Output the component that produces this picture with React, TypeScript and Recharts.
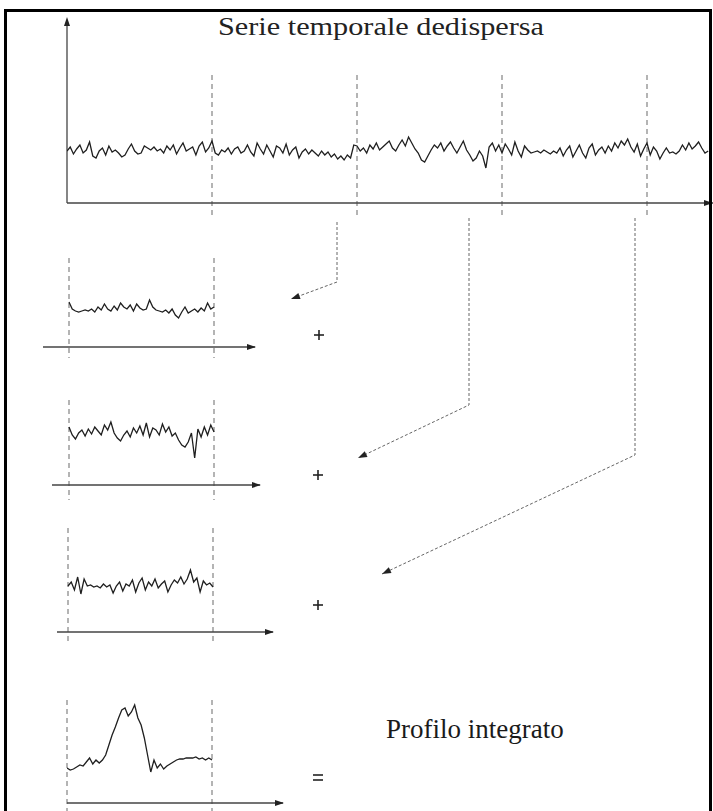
import React from 'react';
import { Line, LineChart, ReferenceLine, XAxis, YAxis } from 'recharts';

// one pulse period = 45 samples
const PERIOD = 45;

// dedispersed time series (height above the time axis)
const mainSeries = [
  52, 56, 49, 54, 58, 50, 53, 61, 47, 45, 52, 55, 48, 57, 51, 53, 50, 46, 48, 54, 59, 52, 49, 50, 57,
  55, 53, 56, 52, 54, 50, 57, 53, 58, 49, 55, 60, 52, 54, 56, 48, 57, 61, 51, 55,
  62, 50, 48, 53, 51, 55, 49, 54, 56, 50, 52, 58, 51, 47, 60, 54, 49, 58, 52, 46, 57, 55, 50, 59, 48,
  53, 56, 45, 51, 54, 49, 53, 50, 47, 52, 48, 51, 46, 49, 44, 47, 43, 48, 45, 58,
  57, 52, 55, 50, 58, 54, 60, 53, 56, 59, 62, 55, 52, 58, 63, 57, 66, 60, 54, 50, 43, 41, 47, 53, 58,
  55, 60, 52, 57, 61, 55, 50, 56, 62, 53, 48, 42, 45, 52, 47, 35, 56, 60, 52, 58,
  50, 59, 54, 48, 61, 52, 46, 57, 53, 50, 51, 52, 50, 53, 51, 49, 52, 50, 55, 47, 53, 57, 46, 52, 58,
  50, 45, 55, 59, 48, 53, 56, 50, 57, 52, 60, 55, 62, 58, 64, 56, 51, 59, 47, 54,
  60, 48, 56, 52, 44, 50, 55, 50, 51, 49, 52, 58, 53, 60, 54, 57, 61, 55, 50, 52,
];

// single periods cut out of the series
const fold1 = [
  45, 38, 36, 35, 36, 37, 36, 38, 35, 40, 37, 43, 38, 36, 41, 37, 44, 40, 38, 42, 36, 43, 39,
  37, 38, 47, 40, 37, 36, 35, 37, 34, 38, 32, 29, 35, 40, 34, 36, 38, 35, 39, 36, 44, 38, 40,
];
const fold2 = [
  58, 50, 46, 52, 55, 49, 56, 51, 58, 54, 50, 60, 55, 63, 52, 47, 44, 50, 54, 48, 57, 52, 59,
  50, 62, 48, 57, 55, 50, 61, 53, 58, 49, 52, 45, 40, 38, 43, 52, 27, 56, 48, 58, 50, 60, 53,
];
const fold3 = [
  46, 50, 42, 55, 38, 53, 46, 47, 45, 46, 44, 48, 45, 47, 39, 46, 50, 41, 48, 46, 52, 40, 49,
  54, 42, 50, 46, 53, 44, 48, 51, 40, 47, 52, 49, 55, 48, 53, 62, 50, 54, 40, 51, 47, 49, 45,
];

// integrated (folded) profile
const profile = [
  35, 33, 34, 36, 38, 37, 41, 45, 39, 43, 40, 43, 48, 58, 68, 76, 85, 93, 95, 87, 91, 98, 85,
  78, 65, 48, 31, 43, 35, 39, 34, 37, 39, 41, 43, 44, 44, 45, 45, 45, 46, 44, 45, 43, 45, 43,
];

const titleText = 'Serie temporale dedispersa';
const profileText = 'Profilo integrato';

const SERIF = "'Liberation Serif', 'Times New Roman', serif";
const PX_PER_SAMPLE = 145 / PERIOD;
const PAD = 16;
const AXIS = '#444';

const toRows = (values: number[]) => values.map((v, i) => ({ t: i, v }));

interface TracePanelProps {
  values: number[];
  originX: number;
  axisY: number;
  axisFrom: number;
  axisTo: number;
  dashTop: number;
  dashBelow: number;
  boundaries: number[];
  plotTop?: number;
  showYAxis?: boolean;
}

const TracePanel = ({
  values,
  originX,
  axisY,
  axisFrom,
  axisTo,
  dashTop,
  dashBelow,
  boundaries,
  plotTop,
  showYAxis = false,
}: TracePanelProps) => {
  const plotH = plotTop ?? dashTop + 6;
  const width = axisTo - axisFrom;
  const xMin = (axisFrom - originX) / PX_PER_SAMPLE;
  const xMax = (axisTo - originX) / PX_PER_SAMPLE;

  return (
    <div style={{ position: 'absolute', left: axisFrom - PAD, top: axisY - plotH - PAD }}>
      <LineChart
        width={width + PAD * 2}
        height={plotH + PAD * 2}
        data={toRows(values)}
        margin={{ top: PAD, right: PAD, bottom: PAD, left: PAD }}
      >
        <XAxis dataKey="t" type="number" domain={[xMin, xMax]} allowDataOverflow hide />
        <YAxis type="number" domain={[0, plotH]} allowDataOverflow hide />
        {boundaries.map((b) => (
          <ReferenceLine
            key={`b-${b}`}
            segment={[{ x: b, y: dashTop }, { x: b, y: -dashBelow }]}
            ifOverflow="visible"
            stroke="#777"
            strokeWidth={1.1}
            strokeDasharray="5 4"
          />
        ))}
        <ReferenceLine y={0} ifOverflow="visible" stroke={AXIS} strokeWidth={1.3} />
        {showYAxis && (
          <ReferenceLine x={xMin} ifOverflow="visible" stroke={AXIS} strokeWidth={1.3} />
        )}
        <Line
          dataKey="v"
          type="linear"
          dot={false}
          stroke="#1f1f1f"
          strokeWidth={1.3}
          isAnimationActive={false}
        />
      </LineChart>
    </div>
  );
};

const arrowHead = (x1: number, y1: number, x2: number, y2: number, len = 9, half = 3.2) => {
  const dx = x2 - x1;
  const dy = y2 - y1;
  const d = Math.hypot(dx, dy);
  const ux = dx / d;
  const uy = dy / d;
  const bx = x2 - ux * len;
  const by = y2 - uy * len;
  return `${x2},${y2} ${bx - uy * half},${by + ux * half} ${bx + uy * half},${by - ux * half}`;
};

const connectors = [
  [[337, 222], [337, 282], [291, 299]],
  [[469, 218], [469, 405], [358, 458]],
  [[635, 218], [635, 455], [382, 574]],
];

const axisArrows = [
  [67, 26, 67, 17],
  [700, 203, 713, 203],
  [245, 347, 256, 347],
  [250, 485, 261, 485],
  [263, 632, 274, 632],
  [273, 803, 284, 803],
];

const plusSigns = [
  [319, 335],
  [318, 475],
  [318, 605],
];

const Overlay = () => (
  <svg width={713} height={811} style={{ position: 'absolute', left: 0, top: 0, pointerEvents: 'none' }}>
    {connectors.map((pts, i) => {
      const b = pts[1];
      const c = pts[2];
      return (
        <g key={`c-${i}`}>
          <polyline
            points={pts.map((p) => p.join(',')).join(' ')}
            fill="none"
            stroke="#666"
            strokeWidth={1}
            strokeDasharray="3 2"
          />
          <polygon points={arrowHead(b[0], b[1], c[0], c[1])} fill="#222" />
        </g>
      );
    })}
    {axisArrows.map(([x1, y1, x2, y2], i) => (
      <polygon key={`a-${i}`} points={arrowHead(x1, y1, x2, y2, 9, 3)} fill="#222" />
    ))}
    <text
      x={218}
      y={35}
      fontFamily={SERIF}
      fontSize={26}
      fill="#222"
      textLength={326}
      lengthAdjust="spacingAndGlyphs"
    >
      {titleText}
    </text>
    <text x={386} y={738} fontFamily={SERIF} fontSize={27} fill="#1a1a1a">
      {profileText}
    </text>
    {plusSigns.map(([x, y]) => (
      <g key={`p-${y}`} stroke="#222" strokeWidth={1.6}>
        <line x1={x - 5} y1={y} x2={x + 5} y2={y} />
        <line x1={x} y1={y - 5} x2={x} y2={y + 5} />
      </g>
    ))}
    <g stroke="#222" strokeWidth={1.6}>
      <line x1={313} y1={775} x2={323} y2={775} />
      <line x1={313} y1={780} x2={323} y2={780} />
    </g>
    <rect x={5.5} y={10.5} width={705} height={820} fill="none" stroke="#000" strokeWidth={3} />
  </svg>
);

export default function App() {
  return (
    <div
      style={{
        position: 'absolute',
        left: 0,
        top: 0,
        width: 713,
        height: 811,
        overflow: 'hidden',
        background: '#fff',
      }}
    >
      <TracePanel
        values={mainSeries}
        originX={67}
        axisY={203}
        axisFrom={67}
        axisTo={713}
        dashTop={128}
        dashBelow={12}
        boundaries={[PERIOD, PERIOD * 2, PERIOD * 3, PERIOD * 4]}
        plotTop={181}
        showYAxis
      />
      <TracePanel
        values={fold1}
        originX={69}
        axisY={347}
        axisFrom={43}
        axisTo={255}
        dashTop={89}
        dashBelow={11}
        boundaries={[0, PERIOD]}
      />
      <TracePanel
        values={fold2}
        originX={69}
        axisY={485}
        axisFrom={52}
        axisTo={260}
        dashTop={85}
        dashBelow={15}
        boundaries={[0, PERIOD]}
      />
      <TracePanel
        values={fold3}
        originX={68}
        axisY={632}
        axisFrom={57}
        axisTo={273}
        dashTop={104}
        dashBelow={13}
        boundaries={[0, PERIOD]}
      />
      <TracePanel
        values={profile}
        originX={67}
        axisY={803}
        axisFrom={67}
        axisTo={283}
        dashTop={103}
        dashBelow={10}
        boundaries={[0, PERIOD]}
      />
      <Overlay />
    </div>
  );
}
